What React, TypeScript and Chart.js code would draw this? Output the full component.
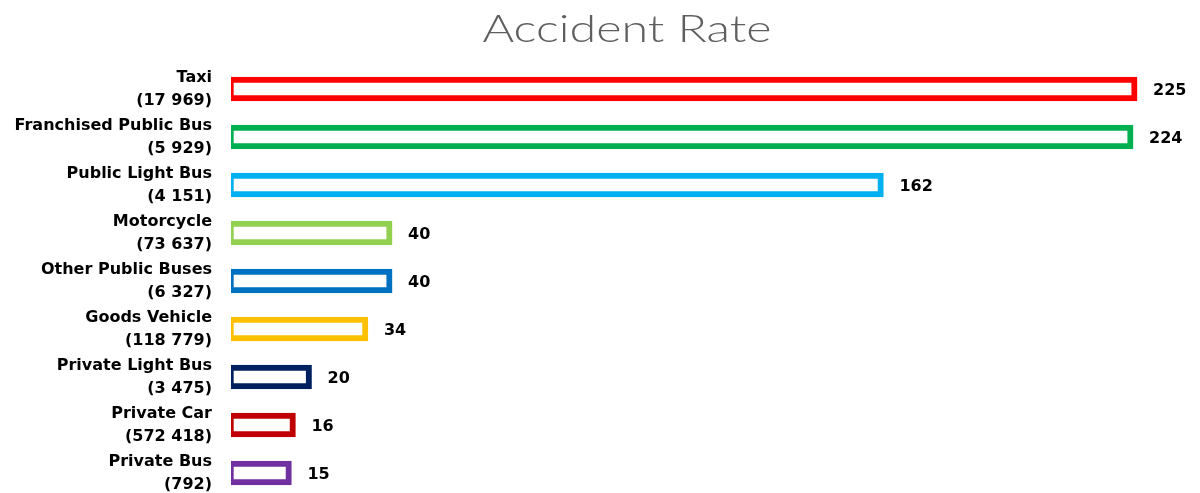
import React, { useEffect, useRef } from "react";
import { Chart, registerables } from "chart.js";

Chart.register(...registerables);

// Vehicle classes (with fleet size in brackets) and their accident rates
const vehicleTypes: string[] = [
  "Taxi",
  "Franchised Public Bus",
  "Public Light Bus",
  "Motorcycle",
  "Other Public Buses",
  "Goods Vehicle",
  "Private Light Bus",
  "Private Car",
  "Private Bus",
];
const fleetSizes: string[] = [
  "(17 969)",
  "(5 929)",
  "(4 151)",
  "(73 637)",
  "(6 327)",
  "(118 779)",
  "(3 475)",
  "(572 418)",
  "(792)",
];
const accidentRates: number[] = [225, 224, 162, 40, 40, 34, 20, 16, 15];
const barColors: string[] = [
  "#FF0000",
  "#00B050",
  "#00B0F0",
  "#92D050",
  "#0070C0",
  "#FFC000",
  "#002060",
  "#C00000",
  "#7030A0",
];

const TITLE = "Accident Rate";
const LABEL_FONT = "'DejaVu Sans', sans-serif";

const titlePlugin = {
  id: "centuryTitle",
  afterDraw(chart: Chart) {
    const ctx = chart.ctx;
    ctx.save();
    ctx.font = "300 38px Lato, sans-serif";
    ctx.fillStyle = "#5f5f5f";
    ctx.textBaseline = "alphabetic";
    ctx.textAlign = "left";
    const w = ctx.measureText(TITLE).width;
    const target = 289;
    const cx = 627;
    ctx.translate(cx - target / 2, 42);
    ctx.scale(target / w, 1);
    ctx.fillText(TITLE, 0, 0);
    ctx.restore();
  },
};

const valueLabelPlugin = {
  id: "valueLabels",
  afterDatasetsDraw(chart: Chart) {
    const ctx = chart.ctx;
    const meta = chart.getDatasetMeta(0);
    ctx.save();
    ctx.font = `bold 16px ${LABEL_FONT}`;
    ctx.fillStyle = "#000000";
    ctx.textAlign = "left";
    ctx.textBaseline = "middle";
    meta.data.forEach((bar: any, i: number) => {
      ctx.fillText(String(accidentRates[i]), bar.x + 16, bar.y + 2);
    });
    ctx.restore();
  },
};

export default function App() {
  const canvasRef = useRef<HTMLCanvasElement | null>(null);

  useEffect(() => {
    if (!canvasRef.current) return;
    const chart = new Chart(canvasRef.current, {
      type: "bar",
      data: {
        labels: vehicleTypes.map((v, i) => [v, fleetSizes[i]]),
        datasets: [
          {
            data: accidentRates,
            backgroundColor: "#FFFFFF",
            borderColor: barColors,
            borderWidth: { top: 6, bottom: 6, right: 6, left: 3 },
            borderSkipped: false,
            barThickness: 24,
          },
        ],
      },
      options: {
        indexAxis: "y",
        animation: false,
        responsive: false,
        maintainAspectRatio: false,
        layout: { padding: { top: 65, bottom: 43, left: 0, right: 2.5 } },
        plugins: {
          legend: { display: false },
          title: { display: false },
          tooltip: { enabled: false },
        },
        scales: {
          x: {
            min: 0,
            max: 240,
            display: false,
          },
          y: {
            grid: { display: false, drawTicks: false },
            border: { display: false },
            ticks: {
              color: "#000000",
              padding: 19,
              autoSkip: false,
              font: { family: LABEL_FONT, weight: "bold", size: 16, lineHeight: 1.45 },
            },
            afterFit(scale: any) {
              scale.width = 231;
            },
          },
        },
      },
      plugins: [titlePlugin, valueLabelPlugin],
    });
    return () => chart.destroy();
  }, []);

  return (
    <div style={{ position: "fixed", left: 0, top: 0, width: 1200, height: 493, overflow: "hidden", background: "#fff" }}>
      <canvas ref={canvasRef} width={1200} height={540} style={{ display: "block", width: 1200, height: 540 }} />
    </div>
  );
}
